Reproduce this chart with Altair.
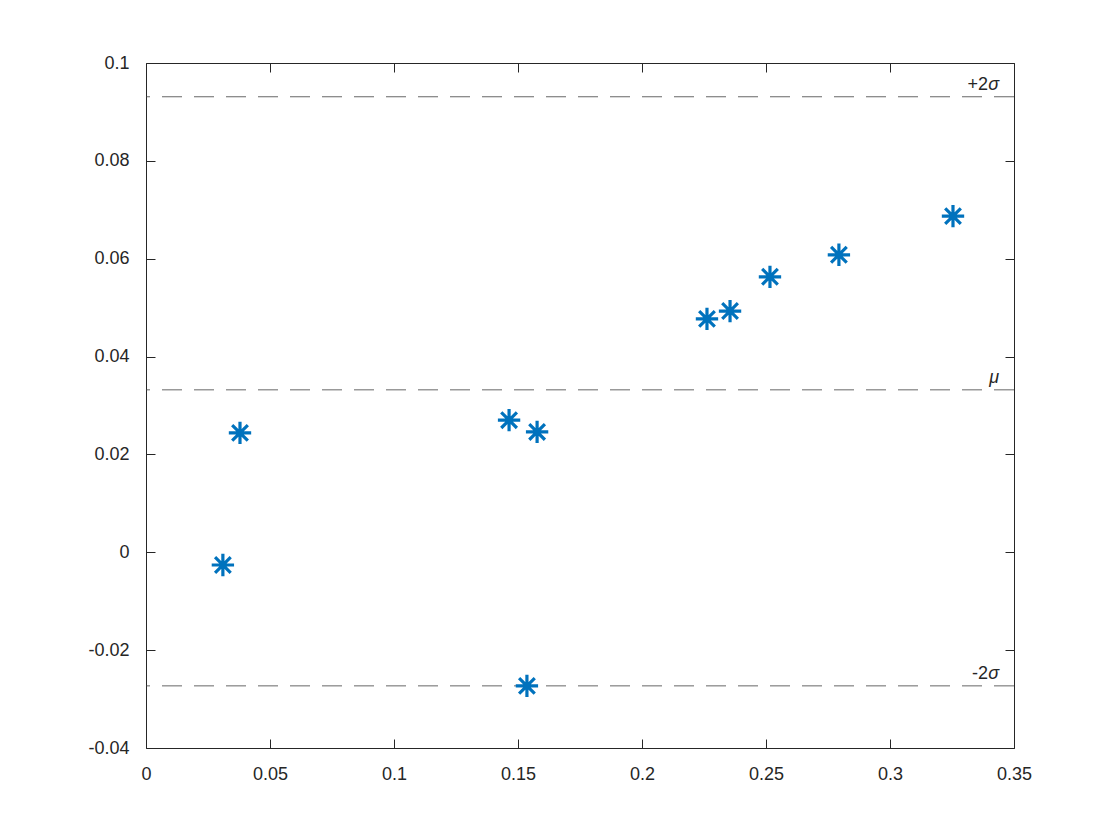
import altair as alt
import pandas as pd

x_vals = [0.0310, 0.0379, 0.1464, 0.1577, 0.1536, 0.2262, 0.2355, 0.2516, 0.2794, 0.3254]
y_vals = [-0.0026, 0.0244, 0.0270, 0.0246, -0.0273, 0.0477, 0.0493, 0.0563, 0.0608, 0.0687]

ref_prefix = ["+2", "", "-2"]
ref_symbol = ["σ", "μ", "σ"]
ref_vals = [0.0931, 0.0332, -0.0273]

x_ticks = [0, 0.05, 0.1, 0.15, 0.2, 0.25, 0.3, 0.35]
y_ticks = [-0.04, -0.02, 0, 0.02, 0.04, 0.06, 0.08, 0.1]

pts = pd.DataFrame({"x": x_vals, "y": y_vals})
refs = pd.DataFrame({"prefix": ref_prefix, "symbol": ref_symbol, "y": ref_vals, "x": [0.344] * 3})

FONT = "Liberation Sans"
xs = alt.Scale(domain=[0, 0.35], nice=False, zero=False)
ys = alt.Scale(domain=[-0.04, 0.1], nice=False, zero=False)

def fmt_axis(orient, values, labels=True):
    return alt.Axis(
        orient=orient, values=values, title=None, grid=False, domain=False,
        ticks=True, tickSize=9, offset=-9, tickColor="#262626", tickWidth=1,
        labels=labels, labelFont=FONT, labelFontSize=18, labelColor="#262626",
        labelPadding=17,
        labelExpr="datum.value == 0 ? '0' : replace(format(datum.value, ''), '\u2212', '-')",
        labelFlush=False, labelOverlap=False,
    )

asterisk = "M-1,0L1,0M0,-1L0,1M-0.7,-0.7L0.7,0.7M-0.7,0.7L0.7,-0.7"

points = alt.Chart(pts).mark_point(
    shape=asterisk, size=500, filled=False, strokeWidth=3.2, color="#0072BD", opacity=1
).encode(
    x=alt.X("x:Q", scale=xs, axis=fmt_axis("bottom", x_ticks)),
    y=alt.Y("y:Q", scale=ys, axis=fmt_axis("left", y_ticks)),
)

frame = alt.Chart(pts).mark_point(opacity=0).encode(
    x=alt.X("x:Q", scale=xs, axis=fmt_axis("top", x_ticks, labels=False)),
    y=alt.Y("y:Q", scale=ys, axis=fmt_axis("right", y_ticks, labels=False)),
)

lines = alt.Chart(refs).mark_rule(
    color="#404040", strokeWidth=0.8, strokeDash=[20, 12]
).encode(y=alt.Y("y:Q", scale=ys, axis=None))

sym = alt.Chart(refs).mark_text(
    align="right", baseline="bottom", dy=-3, font=FONT, fontSize=18,
    fontStyle="italic", color="#262626"
).encode(
    x=alt.X("x:Q", scale=xs, axis=None),
    y=alt.Y("y:Q", scale=ys, axis=None),
    text="symbol:N",
)

pre = alt.Chart(refs).mark_text(
    align="right", baseline="bottom", dx=-11, dy=-3, font=FONT, fontSize=18,
    color="#262626"
).encode(
    x=alt.X("x:Q", scale=xs, axis=None),
    y=alt.Y("y:Q", scale=ys, axis=None),
    text="prefix:N",
)

chart = alt.layer(lines, points, sym, pre, frame).resolve_axis(
    x="independent", y="independent"
).properties(
    width=868, height=685,
    autosize=alt.AutoSizeParams(type="none"),
    padding={"left": 138, "top": 55, "right": 90, "bottom": 70},
).configure_view(stroke="#262626", strokeWidth=1).configure_axis(grid=False)

chart.save("out.html", embed_options={"renderer": "svg", "actions": False})
